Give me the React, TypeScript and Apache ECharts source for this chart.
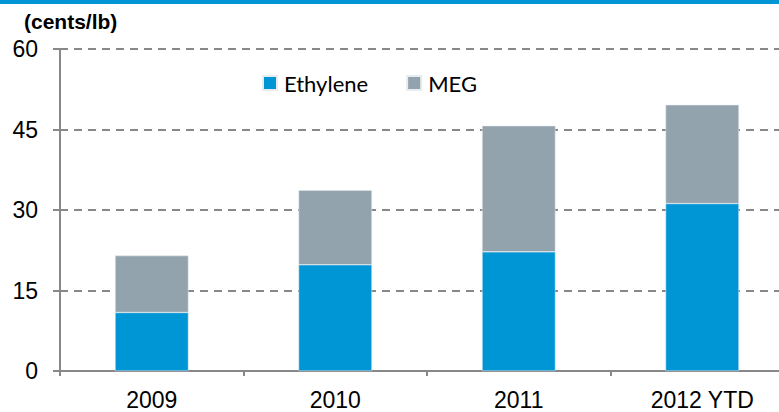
import React, { useEffect, useRef } from "react";
import * as echarts from "echarts";

const categories = ["2009", "2010", "2011", "2012 YTD"];
const ethylene = [10.9, 19.8, 22.2, 31.2];
const meg = [10.6, 13.9, 23.5, 18.4];
const yTicks = { min: 0, max: 60, interval: 15 };

const BLUE = "#0096D6";
const GRAY = "#93A3AE";

export default function App() {
  const ref = useRef<HTMLDivElement>(null);
  useEffect(() => {
    document.body.style.margin = "0";
    const chart = echarts.init(ref.current!, null, { renderer: "svg" });
    chart.setOption({
      animation: false,
      backgroundColor: "#fff",
      grid: {
        left: 60,
        width: 734,
        top: 49,
        height: 322,
        containLabel: false,
        outerBoundsMode: "none",
      },
      legend: {
        left: 262,
        top: 72,
        padding: 0,
        itemWidth: 14,
        itemHeight: 14,
        itemGap: 38,
        icon: "rect",
        textStyle: { fontSize: 22, fontFamily: "Lato", color: "#000", padding: [0, 0, 0, 2] },
        data: ["Ethylene", "MEG"],
      },
      graphic: [
        { type: "rect", left: 0, top: 0, shape: { width: 779, height: 4 }, style: { fill: BLUE } },
        {
          type: "text",
          left: 24,
          top: 11,
          style: { text: "(cents/lb)", font: "bold 21px Arial", fill: "#000" },
        },
      ],
      xAxis: {
        type: "category",
        data: categories,
        axisLine: { lineStyle: { color: "#888", width: 2 } },
        axisTick: { show: true, length: 5, lineStyle: { color: "#888", width: 2 } },
        axisLabel: { fontSize: 23, fontFamily: "Arial", color: "#000", margin: 17 },
      },
      yAxis: {
        type: "value",
        min: yTicks.min,
        max: yTicks.max,
        interval: yTicks.interval,
        axisLine: { show: true, lineStyle: { color: "#888", width: 2 } },
        axisTick: { show: true, length: 7, lineStyle: { color: "#888", width: 2 } },
        axisLabel: { fontSize: 23, fontFamily: "Arial", color: "#000", margin: 22 },
        splitLine: { lineStyle: { color: "#888", width: 2, type: [8, 6] } },
      },
      series: [
        {
          name: "Ethylene",
          type: "bar",
          stack: "a",
          data: ethylene,
          barWidth: "40%",
          itemStyle: { color: BLUE, borderColor: "#e6ecef", borderWidth: 0.5 },
        },
        {
          name: "MEG",
          type: "bar",
          stack: "a",
          data: meg,
          barWidth: "40%",
          itemStyle: { color: GRAY, borderColor: "#e6ecef", borderWidth: 0.5 },
        },
      ],
    });
    return () => chart.dispose();
  }, []);
  return <div ref={ref} style={{ width: 779, height: 412 }} />;
}
